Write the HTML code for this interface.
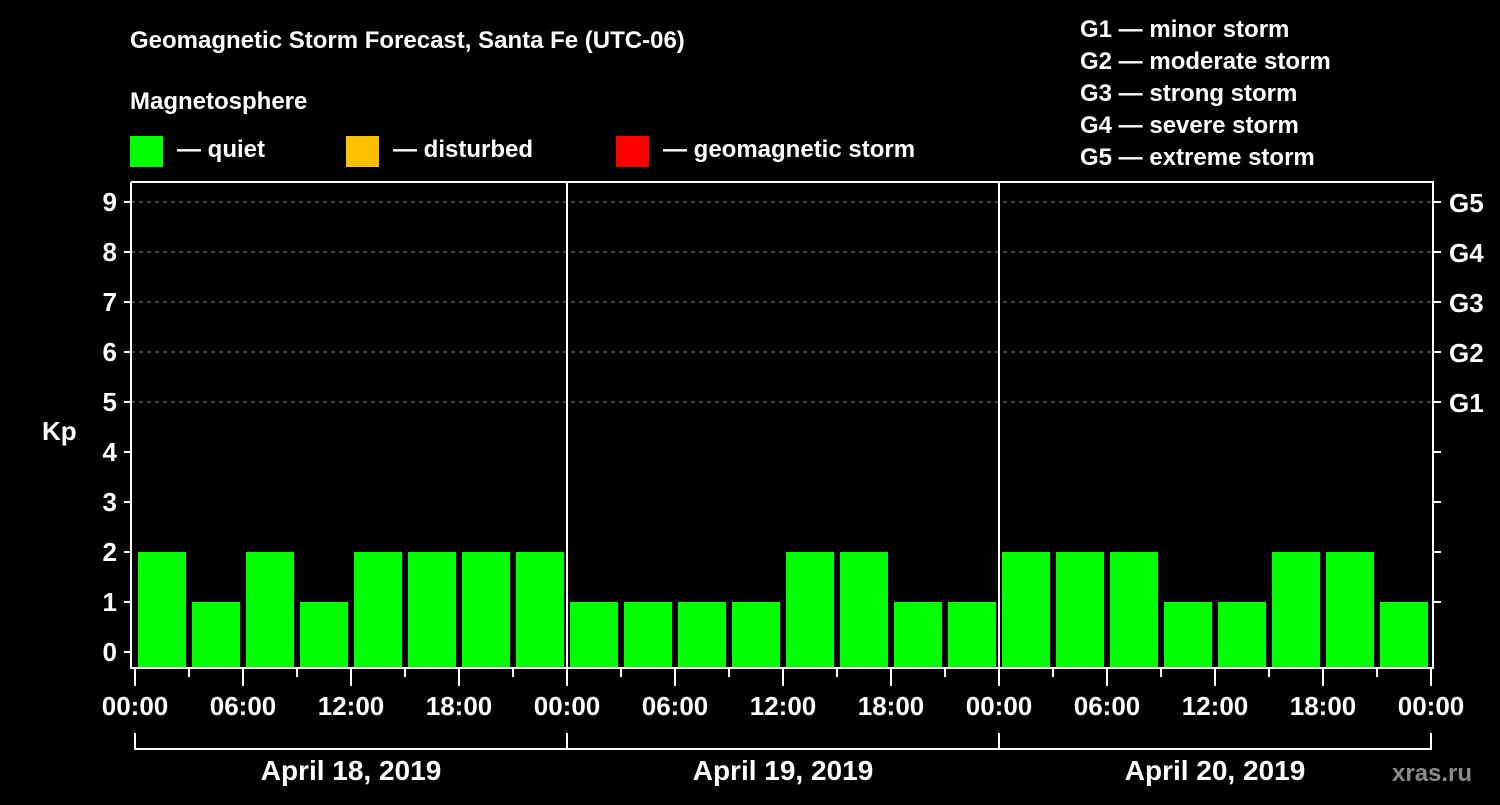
<!DOCTYPE html>
<html><head><meta charset="utf-8"><style>
body{margin:0;background:#000;width:1500px;height:800px;overflow:hidden}
svg text{font-family:"Liberation Sans",Arial,sans-serif;font-weight:bold;fill:#fff}
</style></head><body>
<svg id="c" width="1500" height="800" xmlns="http://www.w3.org/2000/svg">
<text x="130" y="48" font-size="24">Geomagnetic Storm Forecast, Santa Fe (UTC-06)</text>
<text x="130" y="109" font-size="24">Magnetosphere</text>
<g><rect x="130" y="136" width="33" height="31" fill="#00ff00"/><text x="177" y="157" font-size="24">— quiet</text></g>
<g><rect x="346" y="136" width="33" height="31" fill="#ffc000"/><text x="393" y="157" font-size="24">— disturbed</text></g>
<g><rect x="616" y="136" width="33" height="31" fill="#ff0000"/><text x="663" y="157" font-size="24">— geomagnetic storm</text></g>
<g font-size="24">
<text x="1080" y="37">G1 — minor storm</text>
<text x="1080" y="69">G2 — moderate storm</text>
<text x="1080" y="101">G3 — strong storm</text>
<text x="1080" y="133">G4 — severe storm</text>
<text x="1080" y="165">G5 — extreme storm</text>
</g>
<text x="42" y="440" font-size="26">Kp</text>
<g id="plot"></g>
<text x="1392" y="781" font-size="24" fill="#888" style="fill:#8a8a8a">xras.ru</text>
</svg>
<script>
const days = ["April 18, 2019","April 19, 2019","April 20, 2019"];
const kpValues = [2,1,2,1,2,2,2,2, 1,1,1,1,2,2,1,1, 2,2,2,1,1,2,2,1];
const yTicks = [0,1,2,3,4,5,6,7,8,9];
const gLabels = ["G1","G2","G3","G4","G5"];
const timeLabels = ["00:00","06:00","12:00","18:00"];
const NS="http://www.w3.org/2000/svg";
const g=document.getElementById('plot');
const X0=135, DAYW=432, SLOT=DAYW/8, L=131, R=1433, T=182, B=668;
const y=v=>652-v*50;
const x=i=>X0+i*SLOT;
function mk(t,a,txt){const e=document.createElementNS(NS,t);for(const k in a)e.setAttribute(k,a[k]);if(txt!==undefined)e.textContent=txt;g.appendChild(e);return e;}
// grid
yTicks.forEach(v=>{
  if(v>=5){const e=mk('line',{x1:L,x2:R,y1:y(v),y2:y(v),stroke:'#888','stroke-dasharray':'4,4','stroke-width':1});
  
  }
  const t=mk('line',{x1:L-7,x2:L,y1:y(v),y2:y(v),stroke:'#fff','stroke-width':2});
  
  
  const l=mk('text',{x:L-14,y:y(v)+9,'text-anchor':'end','font-size':26},String(v));
  
  
  if(v>=1){const rt=mk('line',{x1:R,x2:R+8,y1:y(v),y2:y(v),stroke:'#fff','stroke-width':2});
  
  }
});
gLabels.forEach((s,i)=>{
  const l=mk('text',{x:R+16,y:y(5+i)+10,'font-size':26},s);
  
  
});
// bars
kpValues.forEach((v,i)=>{
  const c=v>=5?'#ff0000':(v>=4?'#ffc000':'#00ff00');
  const b=mk('rect',{x:x(i)+3,y:y(v),width:SLOT-6,height:B-1-y(v),fill:c});
  
  
});
// frame
const fr=mk('path',{d:`M${L} ${T}V${B}H${R}V${T}H${L}`,fill:'none',stroke:'#fff','stroke-width':2});


for(let d=1;d<days.length;d++){
  const s=mk('line',{x1:X0+d*DAYW,x2:X0+d*DAYW,y1:T,y2:B,stroke:'#fff','stroke-width':2});
  
  
}
// x ticks
for(let i=0;i<=days.length*8;i++){
  const major=i%2===0;
  const t=mk('line',{x1:x(i),x2:x(i),y1:B,y2:major?686:677,stroke:'#fff','stroke-width':2});
  
  
  if(major){
    const l=mk('text',{x:x(i),y:715,'text-anchor':'middle','font-size':26},timeLabels[(i/2)%4]);
    
    
  }
}
// day brackets
days.forEach((d,i)=>{
  const xs=X0+i*DAYW;
  const p=mk('path',{d:`M${xs} 733V749H${xs+DAYW}${i===days.length-1?'V733':''}`,fill:'none',stroke:'#fff','stroke-width':2});
  
  
  const l=mk('text',{x:xs+DAYW/2,y:780,'text-anchor':'middle','font-size':28},d);
  
  
});
</script>
</body></html>
